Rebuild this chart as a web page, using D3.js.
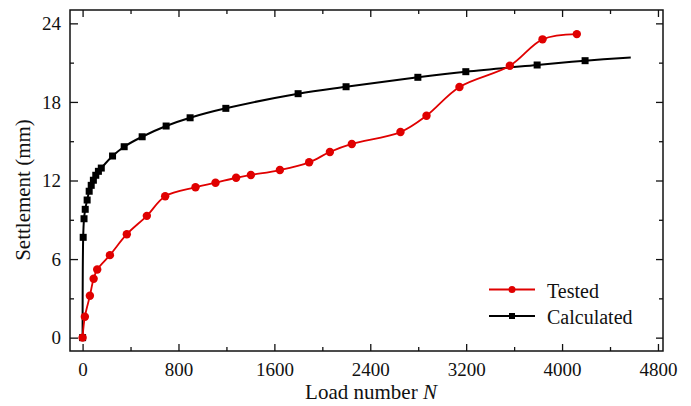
<!DOCTYPE html>
<html>
<head>
<meta charset="utf-8">
<script src="https://cdn.jsdelivr.net/npm/d3@7"></script>
<style>
  body { margin: 0; background: #fff; }
  svg { display: block; font-family: "Liberation Serif", "Times New Roman", serif; }
</style>
</head>
<body>
<svg width="691" height="406"></svg>
<script>
// data
var testedN = [0, 19, 61, 92, 122, 228, 369, 536, 689, 942, 1109, 1281, 1404, 1646, 1890, 2063, 2246, 2652, 2869, 3144, 3564, 3837, 4123];
var testedS = [0, 1.6, 3.2, 4.5, 5.2, 6.3, 7.9, 9.3, 10.8, 11.48, 11.83, 12.21, 12.42, 12.8, 13.39, 14.18, 14.79, 15.7, 16.95, 19.14, 20.76, 22.78, 23.18];

var calcN = [0, 5, 12, 22, 38, 55, 72, 90, 110, 132, 156, 250, 347, 497, 697, 897, 1195, 1798, 2198, 2797, 3197, 3792, 4192];
var calcS = [0, 7.66, 9.08, 9.8, 10.51, 11.18, 11.63, 12.02, 12.4, 12.7, 12.95, 13.87, 14.58, 15.34, 16.16, 16.79, 17.51, 18.63, 19.16, 19.88, 20.31, 20.82, 21.15];
// calculated curve keeps going past the last marker
var calcEndN = 4573, calcEndS = 21.4;

var xTicks = [0, 800, 1600, 2400, 3200, 4000, 4800];
var yTicks = [0, 6, 12, 18, 24];
var seriesNames = ["Tested", "Calculated"];

var svg = d3.select("svg"),
    width = +svg.attr("width"),
    height = +svg.attr("height");

var margin = {left: 70, right: 28, top: 10, bottom: 55};
var w = width - margin.left - margin.right,
    h = height - margin.top - margin.bottom;

var x = d3.scaleLinear().domain([-105, 4842]).range([0, w]);
var y = d3.scaleLinear().domain([-1.02, 25.02]).range([h, 0]);

var g = svg.append("g").attr("transform", "translate(" + margin.left + "," + margin.top + ")");

var xMinor = d3.range(0, 4801, 400).filter(function(d) { return xTicks.indexOf(d) === -1; });
var yMinor = d3.range(0, 25, 3).filter(function(d) { return yTicks.indexOf(d) === -1; });

function styleAxis(sel) {
    sel.select(".domain").remove();
    sel.selectAll("line").attr("stroke", "#111").attr("stroke-width", 1.3);
    sel.selectAll("text").attr("font-size", 19).attr("fill", "#111")
        .style("font-family", "Liberation Serif, serif");
}

// bottom
g.append("g").attr("transform", "translate(0," + h + ")")
    .call(d3.axisBottom(x).tickValues(xTicks).tickFormat(d3.format("d")).tickSize(-7).tickPadding(12))
    .call(styleAxis);
g.append("g").attr("transform", "translate(0," + h + ")")
    .call(d3.axisBottom(x).tickValues(xMinor).tickFormat("").tickSize(-4))
    .call(styleAxis);
// top
g.append("g")
    .call(d3.axisTop(x).tickValues(xTicks).tickFormat("").tickSize(-7))
    .call(styleAxis);
g.append("g")
    .call(d3.axisTop(x).tickValues(xMinor).tickFormat("").tickSize(-4))
    .call(styleAxis);
// left
g.append("g")
    .call(d3.axisLeft(y).tickValues(yTicks).tickFormat(d3.format("d")).tickSize(-8).tickPadding(9))
    .call(styleAxis);
g.append("g")
    .call(d3.axisLeft(y).tickValues(yMinor).tickFormat("").tickSize(-4))
    .call(styleAxis);
// right
g.append("g").attr("transform", "translate(" + w + ",0)")
    .call(d3.axisRight(y).tickValues(yTicks).tickFormat("").tickSize(-7))
    .call(styleAxis);
g.append("g").attr("transform", "translate(" + w + ",0)")
    .call(d3.axisRight(y).tickValues(yMinor).tickFormat("").tickSize(-4))
    .call(styleAxis);

g.append("rect")
    .attr("width", w).attr("height", h)
    .attr("fill", "none").attr("stroke", "#111").attr("stroke-width", 1.5);

var line = d3.line()
    .x(function(d) { return x(d[0]); })
    .y(function(d) { return y(d[1]); })
    .curve(d3.curveCatmullRom.alpha(0.5));

var tested = d3.zip(testedN, testedS);
var calc = d3.zip(calcN, calcS);
var calcLine = calc.concat([[calcEndN, calcEndS]]);

g.append("path").datum(calcLine)
    .attr("d", line).attr("fill", "none").attr("stroke", "#000").attr("stroke-width", 2);
g.append("path").datum(tested)
    .attr("d", line).attr("fill", "none").attr("stroke", "#e00000").attr("stroke-width", 1.8);

g.selectAll(".sq").data(calc).enter().append("rect")
    .attr("class", "sq")
    .attr("x", function(d) { return x(d[0]) - 3.5; })
    .attr("y", function(d) { return y(d[1]) - 3.5; })
    .attr("width", 7).attr("height", 7)
    .attr("fill", "#000");

g.selectAll(".dot").data(tested).enter().append("circle")
    .attr("class", "dot")
    .attr("cx", function(d) { return x(d[0]); })
    .attr("cy", function(d) { return y(d[1]); })
    .attr("r", 4.2)
    .attr("fill", "#e00000");

// legend
var leg = svg.append("g").attr("transform", "translate(489,289.5)");
leg.append("rect").attr("x", 52).attr("y", -19).attr("width", 100).attr("height", 62).attr("fill", "#fff");
seriesNames.forEach(function(name, i) {
    var row = leg.append("g").attr("transform", "translate(0," + (i * 26.5) + ")");
    var col = i === 0 ? "#e00000" : "#000";
    row.append("line").attr("x1", 0).attr("x2", 46).attr("y1", 0).attr("y2", 0)
        .attr("stroke", col).attr("stroke-width", 1.8);
    if (i === 0) {
        row.append("circle").attr("cx", 23).attr("cy", 0).attr("r", 3.5).attr("fill", col);
    } else {
        row.append("rect").attr("x", 20).attr("y", -3).attr("width", 6).attr("height", 6).attr("fill", col);
    }
    row.append("text").attr("x", 58).attr("y", 8)
        .attr("font-size", 20).attr("fill", "#111").text(name);
});

// axis titles
var xt = svg.append("text")
    .attr("x", 371).attr("y", 399)
    .attr("text-anchor", "middle")
    .attr("font-size", 21).attr("fill", "#111");
xt.append("tspan").text("Load number ");
xt.append("tspan").attr("font-style", "italic").text("N");

svg.append("text")
    .attr("transform", "translate(30,190) rotate(-90)")
    .attr("text-anchor", "middle")
    .attr("font-size", 21).attr("fill", "#111")
    .text("Settlement (mm)");
</script>
</body>
</html>
